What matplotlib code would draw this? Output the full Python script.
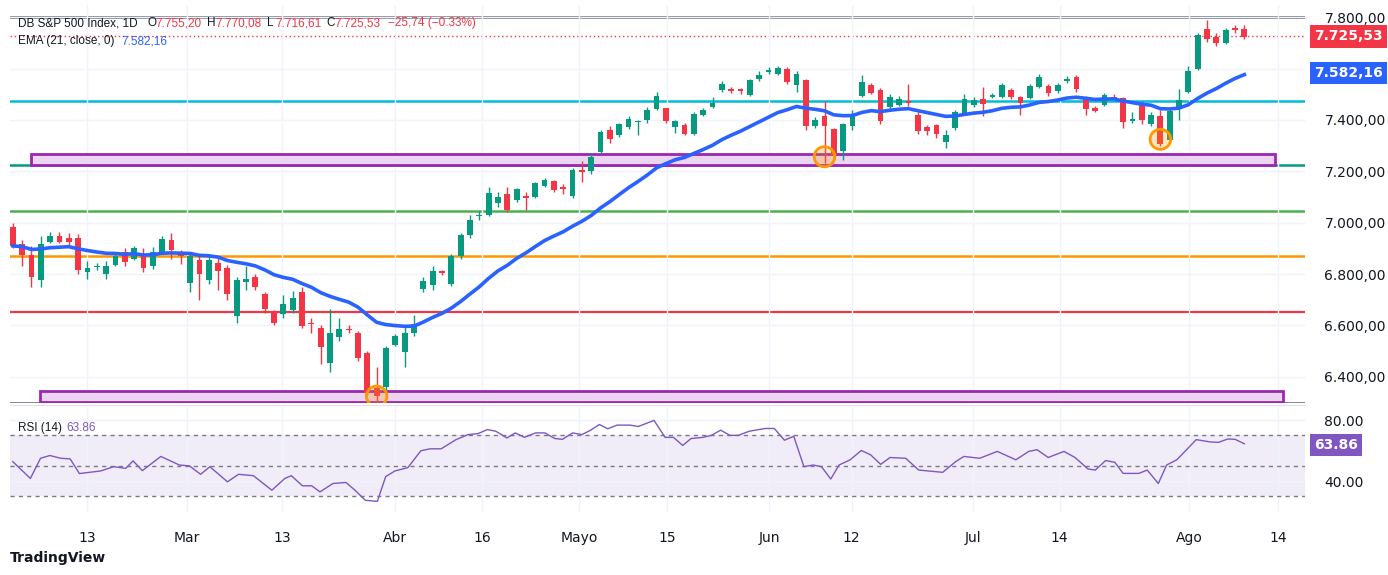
import numpy as np
import pandas as pd
import matplotlib
matplotlib.use("Agg")
import matplotlib.pyplot as plt
from matplotlib.patches import Rectangle, Ellipse

# OHLC diario (aprox.)
opens = [6985,6918,6875,6779,6926,6950,6940,6942,6808,6826,
         6800,6836,6887,6860,6879,6832,6887,6934,6887,6765,
         6855,6777,6844,6824,6636,6769,6789,6722,6651,6644,
         6659,6730,6610,6589,6455,6557,6587,6569,6491,6357,
         6361,6526,6498,6569,6742,6757,6812,6761,6871,6953,
         7028,7032,7075,7110,7087,7106,7102,7145,7161,7141,
         7106,7204,7200,7275,7361,7341,7373,7394,7400,7443,
         7447,7373,7380,7345,7420,7451,7518,7522,7522,7498,
         7561,7588,7580,7600,7537,7557,7377,7416,7365,7279,
         7377,7494,7537,7518,7451,7459,7474,7420,7373,7380,
         7314,7369,7428,7459,7482,7490,7490,7518,7490,7486,
         7530,7533,7514,7553,7569,7486,7447,7459,7490,7486,
         7396,7459,7384,7416,7322,7451,7510,7600,7753,7725,
         7698,7757,7755]
closes = [6910,6875,6789,6918,6950,6926,6926,6816,6824,6830,
          6832,6871,6847,6902,6824,6887,6938,6895,6871,6871,
          6800,6855,6812,6722,6777,6781,6750,6663,6608,6683,
          6706,6597,6606,6518,6569,6585,6583,6475,6338,6326,
          6514,6561,6569,6604,6773,6812,6804,6871,6953,7012,
          7032,7114,7102,7051,7130,7098,7153,7165,7126,7130,
          7204,7196,7255,7353,7326,7384,7404,7398,7439,7494,
          7396,7396,7345,7424,7439,7467,7541,7514,7514,7557,
          7577,7596,7604,7549,7580,7377,7400,7377,7263,7384,
          7424,7549,7506,7396,7490,7482,7467,7357,7357,7345,
          7341,7431,7482,7478,7463,7498,7537,7490,7467,7533,
          7569,7506,7537,7561,7522,7443,7435,7498,7486,7392,
          7404,7400,7420,7306,7435,7478,7592,7729,7714,7698,
          7749,7749,7725]
highs = [7000,6934,6910,6950,6965,6965,6960,6955,6850,6845,
         6850,6880,6900,6910,6900,6905,6950,6960,6895,6880,
         6870,6870,6870,6835,6790,6830,6800,6730,6660,6720,
         6735,6750,6630,6600,6663,6630,6600,6580,6500,6440,
         6520,6565,6600,6640,6790,6830,6815,6880,6960,7030,
         7045,7140,7120,7140,7135,7120,7160,7175,7165,7150,
         7215,7240,7270,7360,7375,7390,7415,7400,7450,7510,
         7445,7400,7390,7430,7445,7490,7550,7530,7525,7560,
         7590,7605,7610,7605,7590,7560,7410,7475,7370,7390,
         7440,7575,7545,7525,7500,7492,7540,7430,7380,7385,
         7360,7440,7500,7490,7530,7505,7545,7525,7495,7540,
         7580,7540,7545,7570,7575,7495,7455,7505,7500,7490,
         7430,7475,7430,7440,7445,7520,7610,7740,7790,7740,
         7760,7770,7770]
lows = [6900,6832,6750,6750,6920,6920,6915,6800,6780,6815,
        6780,6830,6830,6855,6810,6820,6880,6860,6840,6730,
        6700,6760,6740,6700,6610,6740,6740,6650,6600,6630,
        6650,6590,6570,6450,6420,6540,6570,6460,6330,6300,
        6330,6520,6440,6560,6730,6740,6795,6755,6860,6940,
        7010,7025,7060,7040,7080,7050,7095,7140,7120,7110,
        7095,7160,7190,7270,7310,7335,7365,7340,7390,7440,
        7390,7350,7340,7340,7415,7445,7510,7505,7500,7495,
        7550,7580,7575,7540,7510,7360,7370,7232,7250,7245,
        7360,7490,7500,7385,7440,7455,7455,7345,7340,7330,
        7290,7360,7420,7450,7415,7485,7485,7480,7420,7480,
        7525,7495,7505,7545,7510,7420,7430,7455,7480,7370,
        7390,7385,7375,7300,7315,7400,7505,7595,7705,7690,
        7695,7740,7717]

rsi_x = [0, 1.9, 3, 4, 5.2, 6.2, 7.2, 9.5, 10.9, 12.2, 13, 14, 16, 18, 19.1, 20.3, 21.3, 23.2, 24.4, 26,
         28, 29.4, 30.1, 31.3, 32.3, 33.2, 34.6, 36, 37, 38.1, 39.4, 40.3, 41.3, 42.7, 44.1, 45.1, 46.3,
         47.9, 49.2, 50.3, 51.3, 52.2, 53.4, 54.3, 55.3, 56.5, 57.5, 58.6, 59.4, 60.5, 61.5, 62.4, 63.4,
         64.3, 65.3, 66.7, 67.6, 69.3, 70.5, 71.4, 72.4, 73.3, 74.6, 75.5, 76.5, 77.5, 78.4, 79.6, 81.3,
         82.3, 83.4, 84.4, 85.5, 86.5, 87.4, 88.4, 89.3, 90.5, 91.7, 92.7, 93.8, 94.8, 96.5, 97.9, 100.5,
         101.9, 102.8, 104.5, 106.4, 108.4, 109.8, 110.7, 111.9, 113.6, 114.8, 116.2, 117, 118.1, 119.1,
         120, 121.7, 122.6, 123.8, 124.7, 125.8, 127.9, 129.4, 130.3, 131.3, 132.1, 133.1]
rsi_val = [52.8, 41.8, 55, 56.8, 55, 54.6, 45, 46.7, 49.5, 48.4, 53.3, 46.9, 56.2, 50.6, 50, 44.5, 49.5,
           39.6, 44.5, 43.6, 34.1, 41.8, 43.6, 37, 37, 33, 38.5, 39.2, 34, 27.5, 26.8, 43, 46.7, 48.9,
           59.9, 61.2, 61.2, 67.2, 70.5, 71.2, 73.8, 72.7, 68.3, 71.6, 68.7, 71.6, 71.6, 67.9, 67.4, 71.6,
           70.5, 73.2, 77.1, 74.3, 76.7, 76.7, 75.8, 79.8, 68.7, 68.7, 63.4, 67.9, 68.7, 70, 73.4, 70, 70,
           72.7, 74.5, 74.5, 66.8, 69.4, 49.5, 50.6, 49.5, 41.4, 50.6, 54, 60.1, 57.3, 51, 55.5, 55, 47.3,
           45.8, 52.8, 56.2, 55, 59.5, 54, 59.5, 60.6, 55.5, 59.5, 55.5, 48, 47.3, 53.5, 52.4, 45.1, 45.1,
           47.3, 38.5, 50.6, 54, 67.2, 65.7, 65.4, 67.6, 67.4, 64.5]

tick_pos = [8.0, 18.7, 28.9, 41.0, 50.3, 60.7, 70.1, 81.1, 89.9, 102.9, 112.2, 126.1, 135.6]
tick_labels = ["13", "Mar", "13", "Abr", "16", "Mayo", "15", "Jun", "12", "Jul", "14", "Ago", "14"]
price_ticks = [6400, 6600, 6800, 7000, 7200, 7400, 7600, 7800]
last_close = 7725.53
ema_last = 7582.16
rsi_last = 63.86
circle_bars = [39, 87, 123]

GREEN = "#089981"
RED = "#F23645"
BLUE = "#2962FF"
PURPLE = "#9C27B0"
TXT = "#131722"
FONT = ["Liberation Sans", "DejaVu Sans"]

def fmt(v):
    return f"{v:,.2f}".replace(",", "X").replace(".", ",").replace("X", ".")

o = np.array(opens, float); c = np.array(closes, float)
h = np.array(highs, float); l = np.array(lows, float)
x = np.arange(len(c))
ema = pd.Series(c).ewm(span=21, adjust=False).mean().values
rx = np.array(rsi_x) * (len(c) - 1) / rsi_x[-1]

fig = plt.figure(figsize=(13.88, 5.75), dpi=100)
ax = fig.add_axes([0.0072, 0.299, 0.933, 0.692])
ax2 = fig.add_axes([0.0072, 0.110, 0.933, 0.186], sharex=ax)

# niveles
ax.axhline(7800, color="#787B86", lw=2, zorder=1)
ax.axhline(7475, color="#00BCD4", lw=1.8, zorder=1)
ax.axhline(7224, color="#089981", lw=1.8, zorder=1)
ax.axhline(7047, color="#4CAF50", lw=1.8, zorder=1)
ax.axhline(6871, color="#FF9800", lw=1.8, zorder=1)
ax.axhline(6651, color=RED, lw=1.6, zorder=1)
ax.axhline(6300, color="#787B86", lw=2, zorder=1)
ax.axhline(last_close, color=RED, lw=1, ls=(0, (1, 2)), zorder=1)
ax.add_patch(Rectangle((1.9, 7224), 133.4, 44, fc="#EBD5F0", ec=PURPLE, lw=2, zorder=2))
ax.add_patch(Rectangle((2.9, 6302), 133.2, 43, fc="#EBD5F0", ec=PURPLE, lw=2, zorder=2))

# velas
cols = [GREEN if cc >= oo else RED for oo, cc in zip(o, c)]
ax.vlines(x, l, h, colors=cols, lw=1, zorder=3)
body = np.maximum(np.abs(c - o), 4)
ax.bar(x, body, bottom=np.minimum(o, c), width=0.62, color=cols, zorder=4)
ax.plot(x, ema, color=BLUE, lw=2.6, zorder=5)
for b in circle_bars:
    ax.add_patch(Ellipse((b, l[b] + 25), 2.2, 78, fc="#FF9800", alpha=0.25, ec="none", zorder=6))
    ax.add_patch(Ellipse((b, l[b] + 25), 2.2, 78, fc="none", ec="#FF9800", lw=2, zorder=6))

ax.set_xlim(-0.3, 138.5)
ax.set_ylim(6298, 7847)
ax.yaxis.tick_right()
ax.set_yticks(price_ticks)
ax.set_yticklabels([fmt(v) if v != 7600 else "" for v in price_ticks])
ax.tick_params(axis="y", length=0, labelsize=10, colors=TXT, pad=14)
ax.tick_params(axis="x", length=0, labelbottom=False)
ax.set_xticks(tick_pos)
ax.grid(True, color="#F0F3FA", lw=1)
for s in ax.spines.values():
    s.set_visible(False)

ax.text(1.007, last_close, fmt(last_close), transform=ax.get_yaxis_transform(), ha="left", va="center",
        color="white", fontsize=10, fontweight="bold", zorder=10,
        bbox=dict(fc=RED, ec="none", boxstyle="square,pad=0.3"))
ax.text(1.007, ema_last, fmt(ema_last), transform=ax.get_yaxis_transform(), ha="left", va="center",
        color="white", fontsize=10, fontweight="bold", zorder=10,
        bbox=dict(fc=BLUE, ec="none", boxstyle="square,pad=0.3"))

# leyenda
W, H = 1388, 575
def ftxt(px, py, s, col, **kw):
    fig.text(px / W, 1 - py / H, s, color=col, fontsize=8.5, va="center", family=FONT, **kw)

ftxt(18, 23, "DB S&P 500 Index, 1D", TXT)
for px, k, v in [(147, "O", "7.755,20"), (207, "H", "7.770,08"), (267, "L", "7.716,61"), (326, "C", "7.725,53")]:
    ftxt(px, 23, k, TXT)
    ftxt(px + 8, 23, v, RED)
ftxt(388, 23, "−25,74 (−0.33%)", RED)
ftxt(18, 41, "EMA (21, close, 0)", TXT)
ftxt(121, 41, fmt(ema_last), BLUE)

# RSI
ax2.axhspan(30, 70, color="#7E57C2", alpha=0.1, lw=0)
for lvl in (30, 50, 70):
    ax2.axhline(lvl, color="#787B86", lw=1, ls=(0, (3, 3)))
ax2.plot(rx, rsi_val, color="#7E57C2", lw=1)
ax2.set_ylim(20, 90)
ax2.yaxis.tick_right()
ax2.set_yticks([40, 80])
ax2.set_yticklabels(["40.00", "80.00"])
ax2.tick_params(axis="y", length=0, labelsize=10, colors=TXT, pad=14)
ax2.set_xticks(tick_pos)
ax2.set_xticklabels(tick_labels)
ax2.tick_params(axis="x", length=0, labelsize=10, colors=TXT, pad=14)
ax2.grid(True, color="#F0F3FA", lw=1)
for s in ax2.spines.values():
    s.set_visible(False)
ax2.spines["top"].set_visible(True)
ax2.spines["top"].set_color("#E0E3EB")
ax2.text(1.007, rsi_last, f"{rsi_last:.2f}", transform=ax2.get_yaxis_transform(), ha="left", va="center",
         color="white", fontsize=10, fontweight="bold",
         bbox=dict(fc="#7E57C2", ec="none", boxstyle="square,pad=0.3"))
ftxt(18, 428, "RSI (14)", TXT)
ftxt(66, 428, f"{rsi_last:.2f}", "#7E57C2")

fig.text(0.007, 0.022, "TradingView", fontsize=10, color=TXT, fontweight="bold")
fig.savefig("out.png", dpi=100, facecolor="white")
